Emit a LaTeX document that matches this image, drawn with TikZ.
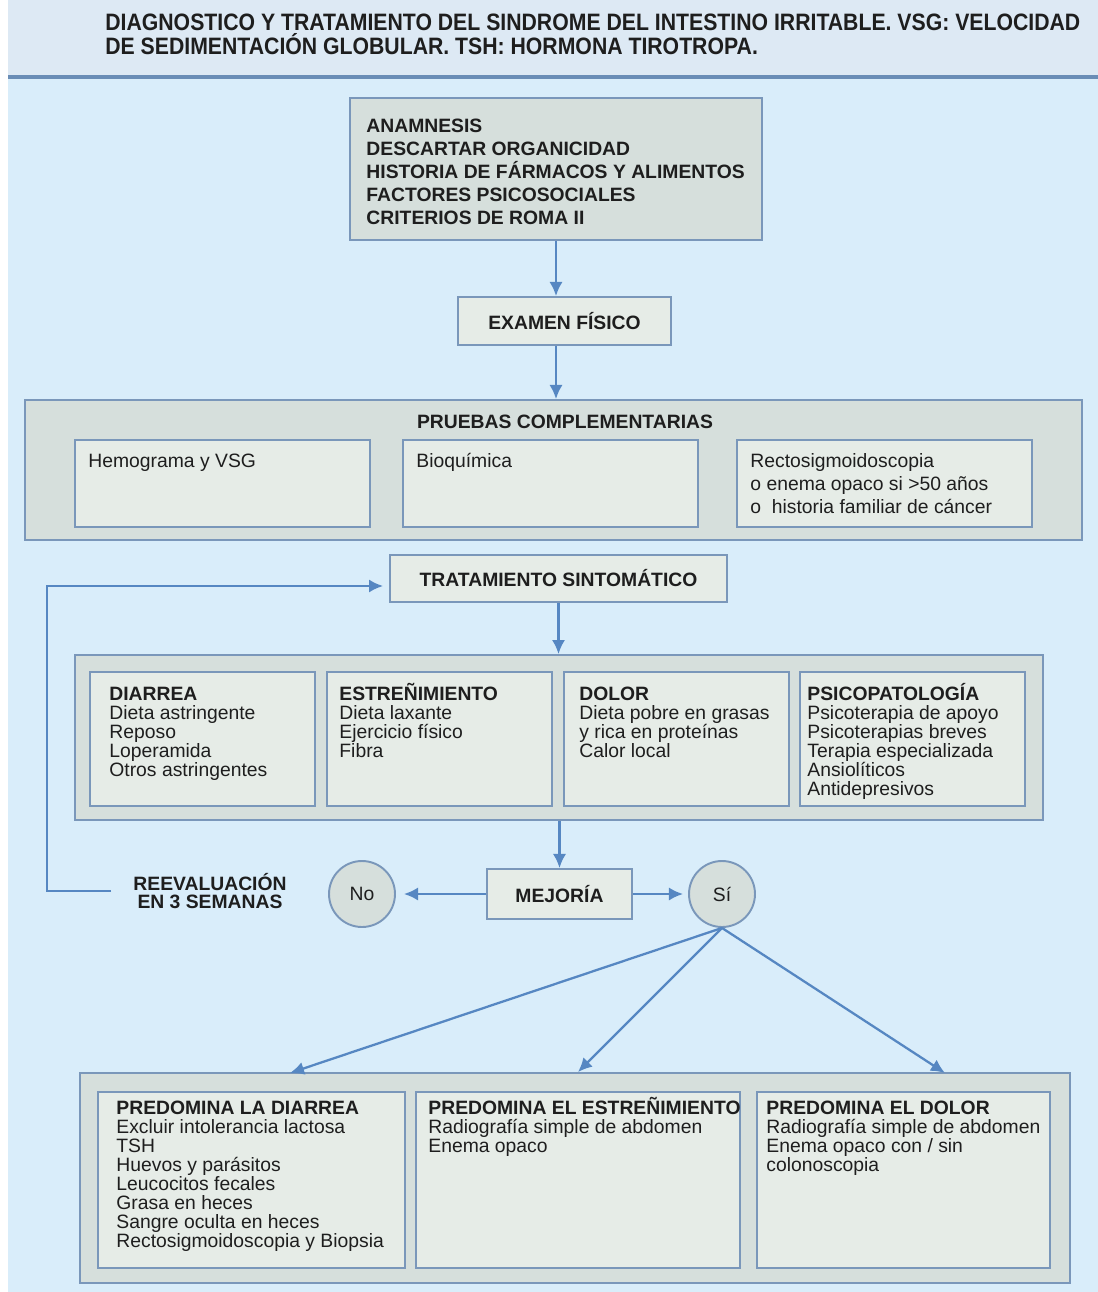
\documentclass[tikz,border=0pt]{standalone}
\usepackage{fontspec}
\setmainfont{Liberation Sans}
\newfontfamily\narrowfont[FakeStretch=0.895]{Liberation Sans}
\usetikzlibrary{arrows,arrows.meta,calc,positioning,shapes.geometric}
\tikzset{>={Latex[length=8pt,width=7.5pt]}}
\definecolor{fondo}{HTML}{D9EDFA}
\definecolor{banda}{HTML}{DDE9F4}
\definecolor{raya}{HTML}{6A8DB6}
\definecolor{borde}{HTML}{7A97BA}
\definecolor{grisca}{HTML}{D6DFDC}
\definecolor{clara}{HTML}{E6ECE7}
\definecolor{azulf}{HTML}{5687C2}
\definecolor{tinta}{HTML}{1E1E1E}
\newcommand{\alto}{\vphantom{\bfseries ÑÍ}}
\tikzset{
  caja/.style={draw=borde, line width=1.1pt, fill=grisca, inner sep=0pt},
  cajaint/.style={caja, fill=clara},
  negrita/.style={font=\fontsize{11}{13.1}\selectfont\bfseries, text=tinta, inner sep=0pt},
  lista/.style={font=\fontsize{11}{10.8}\selectfont, text=tinta, inner sep=0pt, align=left, anchor=north west},
  flecha/.style={draw=azulf, line width=1.3pt, ->},
  globo/.style={circle, draw=borde, line width=1.1pt, fill=grisca, minimum size=1.32cm,
    inner sep=0pt, font=\fontsize{11}{13}\selectfont, text=tinta}
}
\begin{document}
\begin{tikzpicture}[x=0.02cm,y=-0.02cm]
\useasboundingbox (0,0) rectangle (1098,1292);
\fill[fondo] (0,0) rectangle (1098,1292);
\fill[banda] (0,0) rectangle (1098,75);
\fill[white] (0,0) rectangle (8,1292);
\draw[raya, line width=1.8pt] (8,77) -- (1098,77);

\node[negrita, anchor=north west, align=left, font=\narrowfont\bfseries\fontsize{13.5}{13.6}\selectfont] (titulo) at (105,14)
  {DIAGNOSTICO Y TRATAMIENTO DEL SINDROME DEL INTESTINO IRRITABLE. VSG: VELOCIDAD\\DE SEDIMENTACIÓN GLOBULAR. TSH: HORMONA TIROTROPA.};

\node[caja, minimum width=8.24cm, minimum height=2.84cm] (anam) at (556,169) {};
\node[negrita, align=left, anchor=west] (anam-t) at ([xshift=0.34cm,yshift=-0.06cm]anam.west)
  {ANAMNESIS\\DESCARTAR ORGANICIDAD\\HISTORIA DE FÁRMACOS Y ALIMENTOS\\FACTORES PSICOSOCIALES\\CRITERIOS DE ROMA II};
\node[caja, negrita, fill=clara, minimum width=4.26cm, minimum height=0.96cm] (exam) at (564.5,321) {EXAMEN FÍSICO};

\node[caja, minimum width=21.14cm, minimum height=2.8cm] (prue) at (553.5,470) {};
\node[negrita] (pruet) at (565,422) {PRUEBAS COMPLEMENTARIAS};
\foreach \n/\cx/\txt in {pr1/222.5/{Hemograma y VSG},
                         pr2/550.5/{Bioquímica},
                         pr3/884.5/{Rectosigmoidoscopia\\o enema opaco si >50 años\\o\ \ historia familiar de cáncer}}
{
\node[cajaint, minimum width=5.9cm, minimum height=1.74cm] (\n) at (\cx,483.5) {};
\node[lista, font=\fontsize{11}{13}\selectfont, below right=0.22cm and 0.28cm of \n.north west] (\n-t) {\alto\txt};
}

\node[caja, negrita, fill=clara, minimum width=6.74cm, minimum height=0.94cm] (trat) at (558.5,578.5) {TRATAMIENTO SINTOMÁTICO};

\node[caja, minimum width=19.36cm, minimum height=3.3cm] (sint) at (559,737.5) {};
\foreach \n/\cx/\dx/\txt in {s1/202.5/0.4/{\textbf{DIARREA}\\Dieta astringente\\Reposo\\Loperamida\\Otros astringentes},
                             s2/439.5/0.26/{\textbf{ESTREÑIMIENTO}\\Dieta laxante\\Ejercicio físico\\Fibra},
                             s3/676.5/0.32/{\textbf{DOLOR}\\Dieta pobre en grasas\\y rica en proteínas\\Calor local},
                             s4/912.5/0.16/{\textbf{PSICOPATOLOGÍA}\\Psicoterapia de apoyo\\Psicoterapias breves\\Terapia especializada\\Ansiolíticos\\Antidepresivos}}
{
\node[cajaint, minimum width=4.5cm, minimum height=2.68cm] (\n) at (\cx,739) {};
\node[lista, below right=0.24cm and \dx cm of \n.north west] (\n-t) {\alto\txt};
}

\node[caja, negrita, fill=clara, minimum width=2.9cm, minimum height=1.0cm] (mej) at (559.5,894) {MEJORÍA};
\node[globo] (no) at (362,894) {No};
\node[globo] (si) at (722,894) {Sí};
\node[negrita, align=center, font=\fontsize{11}{10.3}\selectfont\bfseries] (reev) at (210,891) {REEVALUACIÓN\\EN 3 SEMANAS};
\coordinate (esq) at (47,888);

\node[caja, minimum width=19.8cm, minimum height=4.2cm] (bot) at (575,1178) {};
\foreach \n/\cx/\w/\dx/\txt in {b1/251.5/6.14/0.38/{\textbf{PREDOMINA LA DIARREA}\\Excluir intolerancia lactosa\\TSH\\Huevos y parásitos\\Leucocitos fecales\\Grasa en heces\\Sangre oculta en heces\\Rectosigmoidoscopia y Biopsia},
                                b2/578/6.48/0.26/{\textbf{PREDOMINA EL ESTREÑIMIENTO}\\Radiografía simple de abdomen\\Enema opaco},
                                b3/903.5/5.86/0.2/{\textbf{PREDOMINA EL DOLOR}\\Radiografía simple de abdomen\\Enema opaco con / sin\\colonoscopia}}
{
\node[cajaint, minimum width=\w cm, minimum height=3.52cm] (\n) at (\cx,1180) {};
\node[lista, below right=0.12cm and \dx cm of \n.north west] (\n-t) {\alto\txt};
}
\coordinate (c1) at (290,1073);
\coordinate (c2) at (b2 |- bot.north);
\coordinate (c3) at (945,1073);

\draw[flecha] (anam.south) -- (anam.south |- exam.north);
\draw[flecha] (anam.south |- exam.south) -- (anam.south |- prue.north);
\draw[flecha] (trat.south) -- (trat.south |- sint.north);
\draw[flecha] (mej.north |- sint.south) -- (mej.north);
\draw[flecha, shorten >=0.16cm] (mej.west) -- (no.east);
\draw[flecha, shorten >=0.1cm] (mej.east) -- (si.west);
\draw[flecha, shorten <=0.44cm, shorten >=0.12cm] (reev.west) -- (reev.west -| esq) |- ([yshift=-0.15cm]trat.west);
\foreach \c in {c1,c2,c3}
  \draw[flecha] (si.south) -- (\c);
\end{tikzpicture}
\end{document}
